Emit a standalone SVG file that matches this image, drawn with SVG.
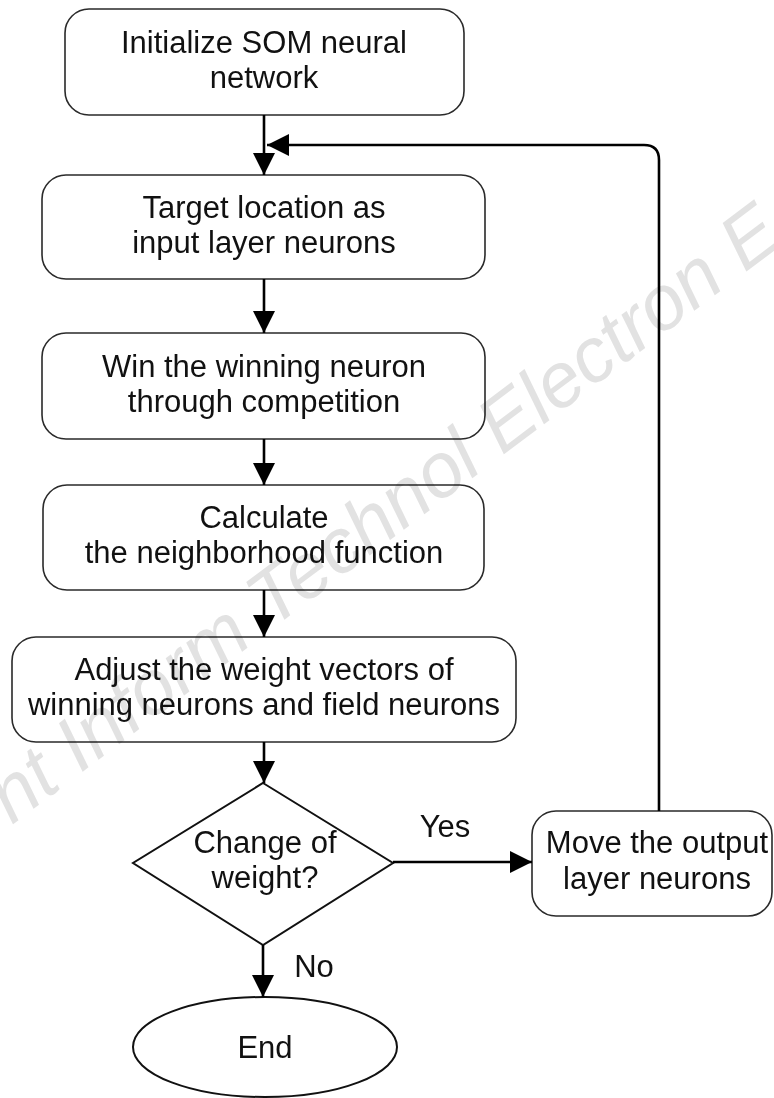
<svg xmlns="http://www.w3.org/2000/svg" width="774" height="1098" viewBox="0 0 774 1098">
<defs>
<style>
.box{fill:#fff;stroke:#2a2a2a;stroke-width:1.6}
.shape{fill:#fff;stroke:#111;stroke-width:2}
.t{font-family:"Liberation Sans",Arial,sans-serif;font-size:31px;fill:#111;text-anchor:middle}
.c{fill:none;stroke:#000;stroke-width:2.6}
.wm{font-family:"Liberation Sans",Arial,sans-serif;font-size:77px;font-style:italic;fill:#e2e2e2;mix-blend-mode:multiply}
</style>
<marker id="ah" viewBox="0 0 10 10" refX="10" refY="5" markerWidth="22" markerHeight="22" markerUnits="userSpaceOnUse" orient="auto">
<path d="M0,0 L10,5 L0,10 z" fill="#000"/>
</marker>
</defs>
<rect width="774" height="1098" fill="#fff"/>
<g id="n1"><rect class="box" x="65" y="9" width="399" height="106" rx="24"/>
<text class="t" x="264" y="53">Initialize SOM neural</text><text class="t" x="264" y="88">network</text></g>
<g id="n2"><rect class="box" x="42" y="175" width="443" height="104" rx="24"/>
<text class="t" x="264" y="218">Target location as</text><text class="t" x="264" y="253">input layer neurons</text></g>
<g id="n3"><rect class="box" x="42" y="333" width="443" height="106" rx="24"/>
<text class="t" x="264" y="377">Win the winning neuron</text><text class="t" x="264" y="412">through competition</text></g>
<g id="n4"><rect class="box" x="43" y="485" width="441" height="105" rx="24"/>
<text class="t" x="264" y="528">Calculate</text><text class="t" x="264" y="563">the neighborhood function</text></g>
<g id="n5"><rect class="box" x="12" y="637" width="504" height="105" rx="24"/>
<text class="t" x="264" y="680">Adjust the weight vectors of</text><text class="t" x="264" y="715">winning neurons and field neurons</text></g>
<g id="n6"><path class="shape" d="M263,783 L393,863 L263,945 L133,863 Z"/>
<text class="t" x="265" y="853">Change of</text><text class="t" x="265" y="888">weight?</text></g>
<g id="n7"><rect class="box" x="532" y="811" width="240" height="105" rx="24"/>
<text class="t" x="657" y="853">Move the output</text><text class="t" x="657" y="889">layer neurons</text></g>
<g id="n8"><ellipse class="shape" cx="265" cy="1047" rx="132" ry="50"/>
<text class="t" x="265" y="1058">End</text></g>
<g id="connectors">
<line class="c" x1="264" y1="115" x2="264" y2="175" marker-end="url(#ah)"/>
<line class="c" x1="264" y1="279" x2="264" y2="333" marker-end="url(#ah)"/>
<line class="c" x1="264" y1="439" x2="264" y2="485" marker-end="url(#ah)"/>
<line class="c" x1="264" y1="590" x2="264" y2="637" marker-end="url(#ah)"/>
<line class="c" x1="264" y1="742" x2="264" y2="783" marker-end="url(#ah)"/>
<line class="c" x1="393" y1="862" x2="532" y2="862" marker-end="url(#ah)"/>
<line class="c" x1="263" y1="945" x2="263" y2="997" marker-end="url(#ah)"/>
<path class="c" d="M659,811 L659,160 Q659,145 644,145 L267,145" marker-end="url(#ah)"/>
<text class="t" x="445" y="837">Yes</text>
<text class="t" x="314" y="977">No</text>
</g>
<text class="wm" x="12" y="825" transform="rotate(-37 12 825)">nt Inform Technol Electron E</text>
</svg>
